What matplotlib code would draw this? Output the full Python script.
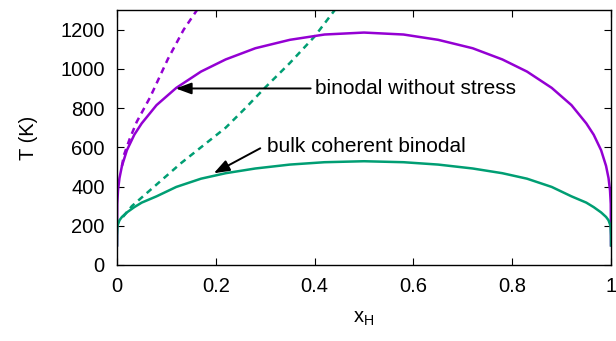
import numpy as np
import matplotlib
matplotlib.use("Agg")
import matplotlib.pyplot as plt

plt.rcParams["font.family"] = ["Liberation Sans", "DejaVu Sans"]
plt.rcParams["font.size"] = 14.5

violet = "#9400d3"
green = "#009e73"

# binodal without stress
x_free = [0.0, 0.0005, 0.002, 0.005, 0.01, 0.02, 0.035, 0.05, 0.08, 0.12, 0.17, 0.22, 0.28, 0.35, 0.42, 0.5,
          0.58, 0.65, 0.72, 0.78, 0.83, 0.88, 0.92, 0.95, 0.965, 0.98, 0.99, 0.995, 0.998, 0.9995, 1.0]
T_free = [100, 311, 380, 443, 505, 585, 664, 722, 815, 903, 986, 1048, 1105, 1148, 1175, 1185,
          1175, 1148, 1105, 1048, 986, 903, 815, 722, 664, 585, 505, 443, 380, 311, 100]

# bulk coherent binodal
x_coh = [0.0, 0.0001, 0.001, 0.005, 0.01, 0.02, 0.035, 0.05, 0.08, 0.12, 0.17, 0.22, 0.28, 0.35, 0.42, 0.5,
         0.58, 0.65, 0.72, 0.78, 0.83, 0.88, 0.92, 0.95, 0.965, 0.98, 0.99, 0.995, 0.999, 0.9999, 1.0]
T_coh = [100, 150, 200, 228, 245, 268, 295, 318, 350, 398, 440, 468, 492, 512, 524, 529,
         524, 512, 492, 468, 440, 398, 350, 318, 295, 268, 245, 228, 200, 150, 100]

# dashed branches
x_free_d = [0.01, 0.014, 0.026, 0.04, 0.067, 0.103, 0.135, 0.162, 0.17]
T_free_d = [505, 560, 645, 730, 855, 1050, 1200, 1300, 1340]
x_coh_d = [0.012, 0.03, 0.08, 0.13, 0.18, 0.22, 0.26, 0.30, 0.35, 0.40, 0.44, 0.45]
T_coh_d = [245, 300, 410, 520, 620, 700, 800, 905, 1030, 1165, 1297, 1330]

fig = plt.figure(figsize=(6.16, 3.41), dpi=100)
ax = fig.add_axes([117/616, 1-265/341, 494/616, 255/341])

ax.plot(x_free_d, T_free_d, color=violet, lw=1.8, dashes=(2.5, 2))
ax.plot(x_coh_d, T_coh_d, color=green, lw=1.8, dashes=(2.5, 2))
ax.plot(x_free, T_free, color=violet, lw=1.8)
ax.plot(x_coh, T_coh, color=green, lw=1.8)

arw = dict(arrowstyle="-|>,head_length=0.65,head_width=0.24", color="k", lw=1.4, shrinkA=0, shrinkB=0)
ax.annotate("", xy=(0.119, 900), xytext=(0.392, 900), arrowprops=arw)
ax.text(0.401, 900, "binodal without stress", va="center", ha="left", fontsize=15)
ax.annotate("", xy=(0.196, 468), xytext=(0.29, 595), arrowprops=arw)
ax.text(0.303, 605, "bulk coherent binodal", va="center", ha="left", fontsize=15)

ax.set_xlim(0, 1)
ax.set_ylim(0, 1300)
ax.set_xticks([0, 0.2, 0.4, 0.6, 0.8, 1])
ax.set_xticklabels(["0", "0.2", "0.4", "0.6", "0.8", "1"])
ax.set_yticks(range(0, 1201, 200))
ax.tick_params(direction="in", top=True, right=True, length=5, width=0.8)
ax.tick_params(axis="x", pad=9)
ax.tick_params(axis="y", pad=9)
for s in ax.spines.values():
    s.set_linewidth(1.0)

ax.set_xlabel(r"x$_\mathregular{H}$", labelpad=9)
ax.set_ylabel("T (K)", labelpad=16)

fig.savefig("out.png", dpi=100)
